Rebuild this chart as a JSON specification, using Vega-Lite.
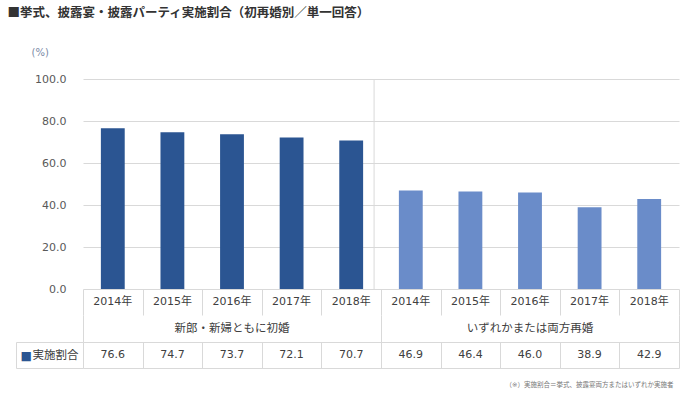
{
  "$schema": "https://vega.github.io/schema/vega-lite/v6.json",
  "padding": {"left": 7, "top": 6, "right": 11, "bottom": 4},
  "title": {
    "text": "■挙式、披露宴・披露パーティ実施割合（初再婚別／単一回答）",
    "anchor": "start",
    "frame": "bounds",
    "font": "Noto Sans CJK JP",
    "fontSize": 12.5,
    "fontWeight": "bold",
    "color": "#333333",
    "dx": -8,
    "offset": 28
  },
  "datasets": {
    "d": [
      {"key": "A2014", "group": "新郎・新婦ともに初婚", "year": "2014年", "value": 76.6},
      {"key": "A2015", "group": "新郎・新婦ともに初婚", "year": "2015年", "value": 74.7},
      {"key": "A2016", "group": "新郎・新婦ともに初婚", "year": "2016年", "value": 73.7},
      {"key": "A2017", "group": "新郎・新婦ともに初婚", "year": "2017年", "value": 72.1},
      {"key": "A2018", "group": "新郎・新婦ともに初婚", "year": "2018年", "value": 70.7},
      {"key": "B2014", "group": "いずれかまたは両方再婚", "year": "2014年", "value": 46.9},
      {"key": "B2015", "group": "いずれかまたは両方再婚", "year": "2015年", "value": 46.4},
      {"key": "B2016", "group": "いずれかまたは両方再婚", "year": "2016年", "value": 46.0},
      {"key": "B2017", "group": "いずれかまたは両方再婚", "year": "2017年", "value": 38.9},
      {"key": "B2018", "group": "いずれかまたは両方再婚", "year": "2018年", "value": 42.9}
    ],
    "g": [
      {"group": "新郎・新婦ともに初婚"},
      {"group": "いずれかまたは両方再婚"}
    ]
  },
  "spacing": 0,
  "bounds": "flush",
  "config": {
    "view": {"stroke": null},
    "font": "DejaVu Sans, Noto Sans CJK JP"
  },
  "vconcat": [
    {
      "width": 596,
      "height": 210,
      "layer": [
        {
          "data": {"name": "d"},
          "mark": {"type": "bar"},
          "encoding": {
            "x": {"field": "key", "type": "nominal", "scale": {"paddingInner": 0.6, "paddingOuter": 0.3}, "axis": null},
            "y": {
              "field": "value",
              "type": "quantitative",
              "scale": {"domain": [0, 100], "nice": false},
              "axis": {
                "values": [0, 20, 40, 60, 80, 100],
                "format": ".1f",
                "grid": true,
                "gridColor": "#d9d9d9",
                "ticks": false,
                "domain": false,
                "labelFontSize": 11,
                "labelColor": "#595959",
                "labelPadding": 17,
                "title": "(%)",
                "titleAngle": 0,
                "titleX": -52,
                "titleY": -27,
                "titleAlign": "left",
                "titleBaseline": "middle",
                "titleFontSize": 10,
                "titleFontWeight": "normal",
                "titleColor": "#7a8aa6"
              }
            },
            "color": {
              "field": "group",
              "type": "nominal",
              "scale": {"domain": ["新郎・新婦ともに初婚", "いずれかまたは両方再婚"], "range": ["#2b5592", "#6a8cc9"]},
              "legend": null
            }
          }
        },
        {
          "data": {"values": [{"key": "A2018"}]},
          "mark": {"type": "rule", "color": "#d9d9d9", "strokeWidth": 1},
          "encoding": {
            "x": {"field": "key", "type": "nominal", "bandPosition": 1.46}
          }
        }
      ]
    },
    {
      "width": 596,
      "height": 26,
      "data": {"name": "d"},
      "mark": {"type": "text", "fontSize": 11, "color": "#404040", "baseline": "middle"},
      "encoding": {
        "x": {
          "field": "key",
          "type": "nominal",
          "scale": {"paddingInner": 0, "paddingOuter": 0},
          "axis": {"grid": true, "tickBand": "extent", "gridColor": "#d9d9d9", "labels": false, "ticks": false, "domain": false, "title": null}
        },
        "text": {"field": "year"}
      }
    },
    {
      "width": 596,
      "height": 27,
      "data": {"name": "g"},
      "mark": {"type": "text", "fontSize": 11.5, "color": "#404040", "baseline": "middle"},
      "encoding": {
        "x": {
          "field": "group",
          "type": "nominal",
          "sort": null,
          "scale": {"paddingInner": 0, "paddingOuter": 0},
          "axis": {"grid": true, "tickBand": "extent", "gridColor": "#d9d9d9", "labels": false, "ticks": false, "domain": false, "title": null}
        },
        "text": {"field": "group"}
      }
    },
    {
      "width": 596,
      "height": 26,
      "data": {"name": "d"},
      "mark": {"type": "text", "fontSize": 11, "color": "#404040", "baseline": "middle"},
      "encoding": {
        "x": {
          "field": "key",
          "type": "nominal",
          "scale": {"paddingInner": 0, "paddingOuter": 0},
          "axis": {
            "grid": true,
            "tickBand": "extent",
            "gridColor": "#d9d9d9",
            "labels": false,
            "ticks": false,
            "domain": false,
            "title": "（※）実施割合＝挙式、披露宴両方またはいずれか実施者",
            "titleFontSize": 6.5,
            "titleFontWeight": "normal",
            "titleColor": "#777777",
            "titleAlign": "right",
            "titleX": 590,
            "titleY": 16,
            "titleBaseline": "middle"
          }
        },
        "y": {
          "datum": "実施割合",
          "type": "nominal",
          "scale": {"type": "band", "paddingInner": 0, "paddingOuter": 0},
          "axis": {
            "grid": true,
            "tickBand": "extent",
            "gridColor": "#d9d9d9",
            "domain": true,
            "domainColor": "#d9d9d9",
            "ticks": true,
            "tickSize": -67,
            "tickColor": "#d9d9d9",
            "offset": 67,
            "labelFontSize": 11.5,
            "labelColor": "#404040",
            "labelPadding": 5,
            "title": "■",
            "titleAngle": 0,
            "titleX": 4,
            "titleY": 13,
            "titleAlign": "left",
            "titleBaseline": "middle",
            "titleColor": "#2b5592",
            "titleFontSize": 12,
            "titleFontWeight": "normal"
          }
        },
        "text": {"field": "value", "type": "quantitative", "format": ".1f"}
      }
    }
  ]
}
